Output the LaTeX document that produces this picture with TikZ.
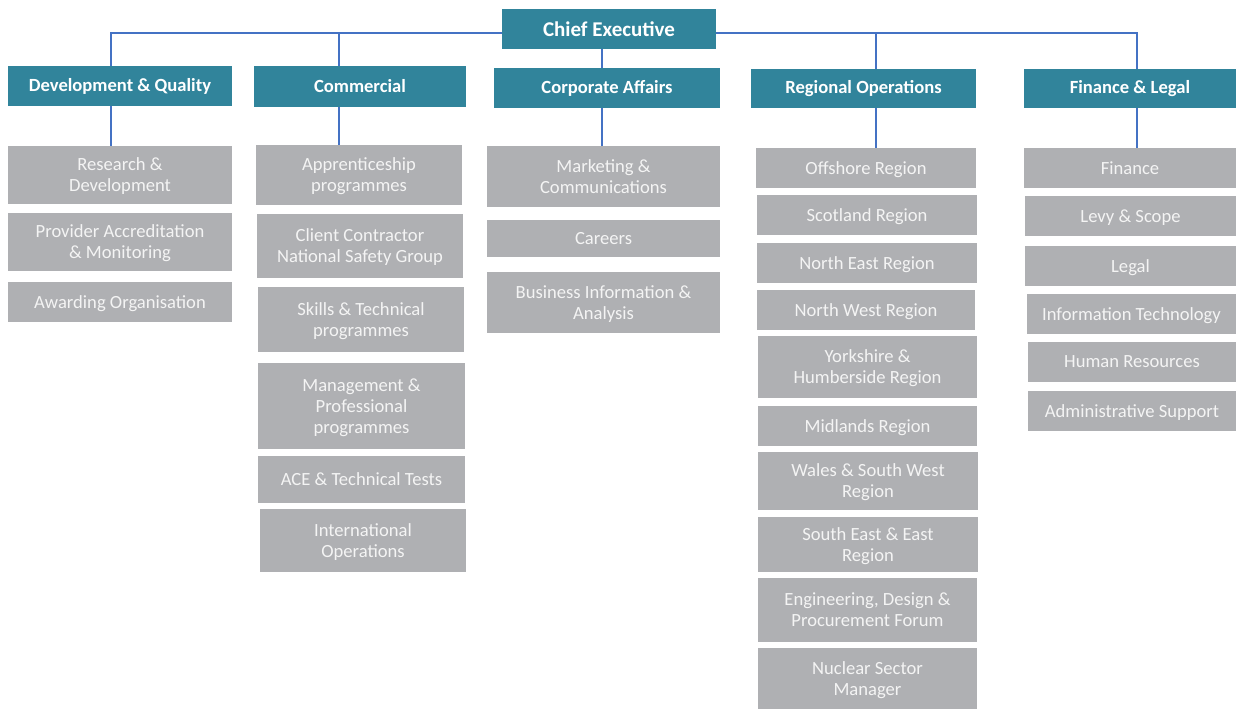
\documentclass[tikz,border=0pt]{standalone}
\usepackage{fontspec}
\setmainfont{Carlito}
\definecolor{teal1}{HTML}{31849B}
\definecolor{gray1}{HTML}{AFB0B3}
\definecolor{line1}{HTML}{4472C4}
\definecolor{txt1}{HTML}{F4F4F4}
\tikzset{
  hbox/.style={fill=teal1, text=white, font=\fontsize{18.6}{22}\selectfont\bfseries, inner sep=0pt, align=center},
  cebox/.style={hbox, font=\fontsize{21}{24}\selectfont\bfseries},
  gbox/.style={fill=gray1, text=txt1, font=\fontsize{18.6}{21}\selectfont, inner sep=0pt, align=center, text depth=0pt},
  conn/.style={draw=line1, line width=1.4pt}
}
\newcommand\bx[7]{\node[#1, minimum width={(#5-#3)*1pt}, minimum height={(#6-#4)*1pt}] (#2) at ({(#3+#5)/2},{(#4+#6)/2}) {#7};}
\begin{document}
\begin{tikzpicture}[x=1pt,y=-1pt]
\useasboundingbox (0,0) rectangle (1236,709);
% headers
\bx{cebox}{ce}{502}{9}{716}{49}{Chief Executive}
\bx{hbox}{dq}{8}{66}{232}{106}{Development \& Quality}
\bx{hbox}{cm}{254}{66}{466}{107}{Commercial}
\bx{hbox}{ca}{494}{68}{720}{108}{Corporate Affairs}
\bx{hbox}{ro}{751}{69}{976}{108}{Regional Operations}
\bx{hbox}{fl}{1024}{69}{1236}{108}{Finance \& Legal}
% development & quality
\bx{gbox}{rd}{8}{146}{232}{204}{Research \&\\Development}
\bx{gbox}{pa}{8}{213}{232}{271}{Provider Accreditation\\\& Monitoring}
\bx{gbox}{ao}{8}{282}{232}{322}{Awarding Organisation}
% commercial
\bx{gbox}{ap}{256}{145}{462}{205}{Apprenticeship\\programmes}
\bx{gbox}{cc}{257}{214}{463}{278}{Client Contractor\\National Safety Group}
\bx{gbox}{st}{258}{287}{464}{352}{Skills \& Technical\\programmes}
\bx{gbox}{mp}{258}{363}{465}{449}{Management \&\\Professional\\programmes}
\bx{gbox}{ace}{258}{456}{465}{503}{ACE \& Technical Tests}
\bx{gbox}{io}{260}{509}{466}{572}{International\\Operations}
% corporate affairs
\bx{gbox}{mc}{487}{146}{720}{207}{Marketing \&\\Communications}
\bx{gbox}{car}{487}{220}{720}{257}{Careers}
\bx{gbox}{bi}{487}{272}{720}{333}{Business Information \&\\Analysis}
% regional operations
\bx{gbox}{off}{756}{148}{976}{188}{Offshore Region}
\bx{gbox}{sco}{757}{195}{977}{235}{Scotland Region}
\bx{gbox}{ne}{757}{243}{977}{283}{North East Region}
\bx{gbox}{nw}{757}{290}{975}{330}{North West Region}
\bx{gbox}{yh}{758}{336}{977}{398}{Yorkshire \&\\Humberside Region}
\bx{gbox}{mid}{758}{406}{977}{446}{Midlands Region}
\bx{gbox}{ws}{758}{452}{978}{510}{Wales \& South West\\Region}
\bx{gbox}{se}{758}{517}{978}{572}{South East \& East\\Region}
\bx{gbox}{edp}{758}{578}{977}{642}{Engineering, Design \&\\Procurement Forum}
\bx{gbox}{nuc}{758}{648}{977}{709}{Nuclear Sector\\Manager}
% finance & legal
\bx{gbox}{fin}{1024}{148}{1236}{188}{Finance}
\bx{gbox}{lev}{1025}{196}{1236}{236}{Levy \& Scope}
\bx{gbox}{leg}{1025}{246}{1236}{286}{Legal}
\bx{gbox}{it}{1027}{294}{1236}{334}{Information Technology}
\bx{gbox}{hr}{1028}{342}{1236}{382}{Human Resources}
\bx{gbox}{as}{1028}{391}{1236}{431}{Administrative Support}
% connectors
\coordinate (busl) at ([yshift=-4pt]ce.west);
\coordinate (busr) at ([yshift=-4pt]ce.east);
\draw[conn] (busl) -| ([xshift=-9pt]dq.north);
\draw[conn] ([xshift=-21pt]cm.north) -- ([xshift=-21pt]cm.north |- busl);
\draw[conn] (busr) -| ([xshift=7pt]fl.north);
\draw[conn] ([xshift=12.5pt]ro.north) -- ([xshift=12.5pt]ro.north |- busr);
\draw[conn] ([xshift=-5pt]ca.north) -- ([xshift=-5pt]ca.north |- ce.south);
\draw[conn] ([xshift=-9pt]dq.south) -- ([xshift=-9pt]dq.south |- rd.north);
\draw[conn] ([xshift=-21pt]cm.south) -- ([xshift=-21pt]cm.south |- ap.north);
\draw[conn] ([xshift=-5pt]ca.south) -- ([xshift=-5pt]ca.south |- mc.north);
\draw[conn] ([xshift=12.5pt]ro.south) -- ([xshift=12.5pt]ro.south |- off.north);
\draw[conn] ([xshift=7pt]fl.south) -- ([xshift=7pt]fl.south |- fin.north);
\end{tikzpicture}
\end{document}
